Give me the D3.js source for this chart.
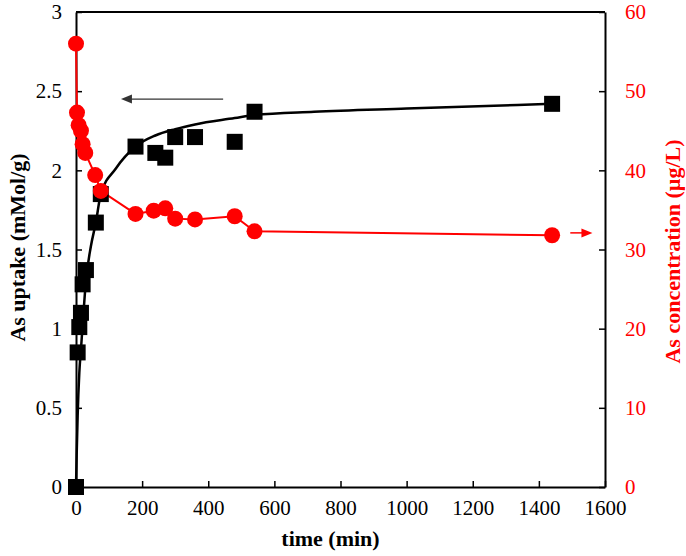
<!DOCTYPE html>
<html>
<head>
<meta charset="utf-8">
<script src="https://cdn.jsdelivr.net/npm/d3@7"></script>
<style>
  body { margin: 0; background: #fff; }
  svg text { font-family: "Liberation Serif", serif !important; }
</style>
</head>
<body>
<div id="chart"></div>
<script>
var uptakeTime = [0, 5, 10, 15, 20, 30, 60, 75, 180, 240, 270, 300, 360, 480, 540, 1440];
var uptake = [0, 0.85, 1.01, 1.10, 1.28, 1.37, 1.67, 1.85, 2.15, 2.11, 2.08, 2.21, 2.21, 2.18, 2.37, 2.42];

var concTime = [0, 3, 8, 15, 20, 28, 58, 75, 180, 235, 270, 300, 360, 480, 540, 1440];
var conc = [56, 47.3, 45.7, 45.0, 43.3, 42.2, 39.4, 37.4, 34.5, 34.9, 35.2, 33.9, 33.8, 34.2, 32.3, 31.8];

// black curve drawn through the uptake points
var fitTime = [0, 2, 5, 10, 15, 20, 30, 45, 60, 75, 120, 180, 240, 300, 360, 480, 540, 720, 1000, 1440];
var fitUptake = [0, 0.2, 0.45, 0.72, 0.87, 1.02, 1.3, 1.52, 1.67, 1.85, 2.01, 2.15, 2.22, 2.26, 2.29, 2.33, 2.35, 2.37, 2.39, 2.42];

// tick labels
var xTicks = [0, 200, 400, 600, 800, 1000, 1200, 1400, 1600];
var yLeftTicks = [0, 0.5, 1, 1.5, 2, 2.5, 3];
var yRightTicks = [0, 10, 20, 30, 40, 50, 60];

var width = 686, height = 556;
var margin = { top: 12, right: 81, bottom: 69, left: 76 };

var svg = d3.select("#chart").append("svg")
    .attr("width", width)
    .attr("height", height);

var x = d3.scaleLinear().domain([0, 1600]).range([margin.left, width - margin.right]);
var yL = d3.scaleLinear().domain([0, 3]).range([height - margin.bottom, margin.top]);
var yR = d3.scaleLinear().domain([0, 60]).range([height - margin.bottom, margin.top]);

// top frame line
svg.append("line")
    .attr("x1", x(0)).attr("x2", x(1600))
    .attr("y1", yL(3)).attr("y2", yL(3))
    .style("stroke", "#000").style("stroke-width", 2);

// x axis
var gx = svg.append("g")
    .attr("transform", "translate(0," + yL(0) + ")")
    .call(d3.axisBottom(x).tickValues(xTicks).tickFormat(function (d) { return d; })
        .tickSizeInner(-6).tickSizeOuter(0).tickPadding(8));

// left axis
var gl = svg.append("g")
    .attr("transform", "translate(" + x(0) + ",0)")
    .call(d3.axisLeft(yL).tickValues(yLeftTicks).tickFormat(function (d) { return d; })
        .tickSizeInner(-6).tickSizeOuter(0).tickPadding(14));

// right axis
var gr = svg.append("g")
    .attr("transform", "translate(" + x(1600) + ",0)")
    .call(d3.axisRight(yR).tickValues(yRightTicks).tickFormat(function (d) { return d; })
        .tickSizeInner(-6).tickSizeOuter(0).tickPadding(20));

[gx, gl, gr].forEach(function (g) {
    g.attr("font-family", "Liberation Serif, serif").attr("font-size", 21);
    g.select(".domain").style("stroke", "#000").style("stroke-width", 2);
    g.selectAll(".tick line").style("stroke", "#000").style("stroke-width", 1.5);
    g.selectAll(".tick text").style("fill", "#000");
});
gr.selectAll(".tick text").style("fill", "#ff0000");
gx.selectAll(".tick text").attr("dy", "0.95em");

// axis titles
svg.append("text")
    .attr("x", x(800) - 10)
    .attr("y", 546)
    .style("text-anchor", "middle")
    .style("font-weight", "bold")
    .style("font-size", "22px")
    .text("time (min)");

svg.append("text")
    .attr("transform", "translate(25," + (yL(1.5) - 2) + ") rotate(-90)")
    .style("text-anchor", "middle")
    .style("font-weight", "bold")
    .style("font-size", "22px")
    .text("As uptake (mMol/g)");

svg.append("text")
    .attr("transform", "translate(680," + (yL(1.5) + 2) + ") rotate(-90)")
    .style("text-anchor", "middle")
    .style("font-weight", "bold")
    .style("font-size", "22px")
    .style("fill", "#ff0000")
    .text("As concentration (\u00b5g/L)");

// red concentration line + circles
var concData = concTime.map(function (t, i) { return { t: t, v: conc[i] }; });
svg.append("path")
    .datum(concData)
    .attr("fill", "none")
    .attr("stroke", "#ff0000")
    .attr("stroke-width", 2)
    .attr("d", d3.line()
        .x(function (d) { return x(d.t); })
        .y(function (d) { return yR(d.v); }));

// black uptake curve
var fitData = fitTime.map(function (t, i) { return { t: t, v: fitUptake[i] }; });
svg.append("path")
    .datum(fitData)
    .attr("fill", "none")
    .attr("stroke", "#000")
    .attr("stroke-width", 2.5)
    .attr("d", d3.line()
        .curve(d3.curveMonotoneX)
        .x(function (d) { return x(d.t); })
        .y(function (d) { return yL(d.v); }));

// uptake squares
var sq = 16;
svg.selectAll(".uptakeDot")
    .data(uptakeTime.map(function (t, i) { return { t: t, v: uptake[i] }; }))
    .enter().append("rect")
    .attr("class", "uptakeDot")
    .attr("x", function (d) { return x(d.t) - sq / 2; })
    .attr("y", function (d) { return yL(d.v) - sq / 2; })
    .attr("width", sq)
    .attr("height", sq)
    .attr("fill", "#000");

// concentration circles
svg.selectAll(".concDot")
    .data(concData)
    .enter().append("circle")
    .attr("class", "concDot")
    .attr("cx", function (d) { return x(d.t); })
    .attr("cy", function (d) { return yR(d.v); })
    .attr("r", 8)
    .attr("fill", "#ff0000");

// arrows pointing to each axis
function arrow(x1, x2, yy, color, w) {
    var dir = x2 < x1 ? -1 : 1;
    svg.append("line")
        .attr("x1", x1).attr("x2", x2 - dir * 9)
        .attr("y1", yy).attr("y2", yy)
        .style("stroke", color).style("stroke-width", w);
    svg.append("path")
        .attr("d", "M" + x2 + "," + yy + "L" + (x2 - dir * 11) + "," + (yy - 4.5) +
            "L" + (x2 - dir * 11) + "," + (yy + 4.5) + "Z")
        .attr("fill", color);
}
arrow(x(445), x(136), yL(2.45), "#333", 1.2);
arrow(x(1495), x(1562), yR(32.1), "#ff0000", 1.5);
</script>
</body>
</html>
